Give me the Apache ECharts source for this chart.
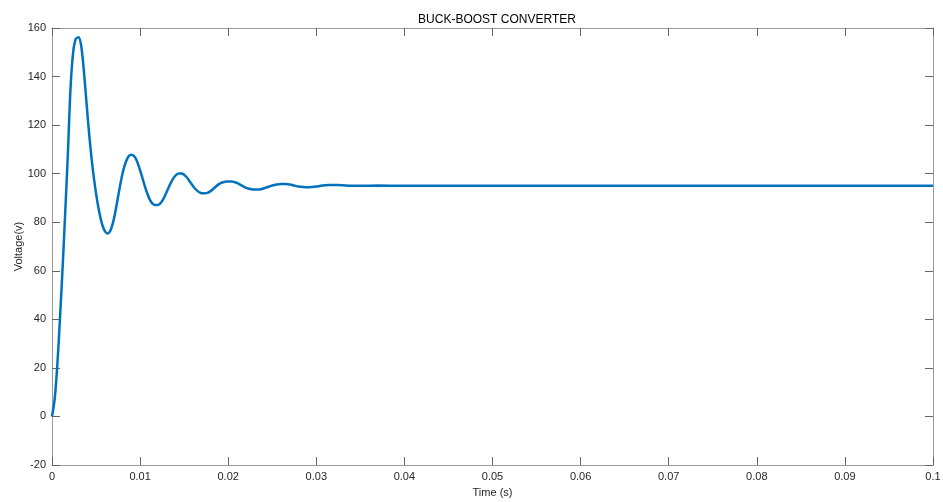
<!DOCTYPE html>
<html>
<head>
<meta charset="utf-8">
<script src="https://cdn.jsdelivr.net/npm/echarts@6/dist/echarts.min.js"></script>
<style>html,body{margin:0;padding:0;background:#fff;}#c{width:943px;height:502px;}</style>
</head>
<body>
<div id="c"></div>
<script>
var titleText = 'BUCK-BOOST CONVERTER';
var xName = 'Time (s)';
var yName = 'Voltage(v)';
var xTicks = [0, 0.01, 0.02, 0.03, 0.04, 0.05, 0.06, 0.07, 0.08, 0.09, 0.1];
var xTickLabels = ['0', '0.01', '0.02', '0.03', '0.04', '0.05', '0.06', '0.07', '0.08', '0.09', '0.1'];
var yTicks = [-20, 0, 20, 40, 60, 80, 100, 120, 140, 160];
var yTickLabels = ['-20', '0', '20', '40', '60', '80', '100', '120', '140', '160'];

var times = [0, 0.0003, 0.0006, 0.0009, 0.0012, 0.0015, 0.0018, 0.0021, 0.0024, 0.0027, 0.0030,
  0.0033, 0.0036, 0.0039, 0.0042, 0.0045, 0.0048, 0.0051, 0.0054, 0.0057, 0.0060,
  0.0063, 0.0066, 0.0069, 0.0072, 0.0075, 0.0078, 0.0081, 0.0084, 0.0087, 0.0090,
  0.0093, 0.0096, 0.0099, 0.0102, 0.0105, 0.0108, 0.0111, 0.0114, 0.0117, 0.0120,
  0.0123, 0.0126, 0.0129, 0.0132, 0.0135, 0.0138, 0.0141, 0.0144, 0.0147, 0.0150,
  0.0153, 0.0156, 0.0159, 0.0162, 0.0165, 0.0168, 0.0171, 0.0174, 0.0177, 0.0180,
  0.0183, 0.0186, 0.0189, 0.0192, 0.0195, 0.0198, 0.0201, 0.0204, 0.0207, 0.0210,
  0.0213, 0.0216, 0.0219, 0.0222, 0.0225, 0.0228, 0.0231, 0.0234, 0.0237, 0.0240,
  0.0245, 0.0250, 0.0255, 0.0260, 0.0265, 0.0270, 0.0275, 0.0280, 0.0285, 0.0290,
  0.0295, 0.0300, 0.0305, 0.0310, 0.0315, 0.0320, 0.0325, 0.0330, 0.0340, 0.0350,
  0.0370, 0.0400, 0.0450, 0.0500, 0.0600, 0.0700, 0.0800, 0.0900, 0.1000];
var voltage = [0, 7, 21, 40, 61, 84, 108, 135, 150, 155.5, 156.2,
  153, 143, 130, 117, 106, 97, 89.5, 83.5, 79, 76.3,
  75.4, 76.3, 79.5, 84.5, 90.5, 96.5, 101.5, 105, 107.2, 107.8,
  107.3, 105.5, 102.5, 99, 95.3, 92, 89.3, 87.7, 87.1, 87.1,
  87.8, 89.3, 91.5, 94, 96.3, 98.2, 99.5, 100.1, 100.1, 99.6,
  98.5, 97, 95.4, 94, 92.9, 92.2, 91.9, 91.9, 92.2, 92.8,
  93.7, 94.7, 95.6, 96.2, 96.6, 96.8, 96.8, 96.8, 96.6, 96.2,
  95.6, 95, 94.4, 94, 93.7, 93.5, 93.5, 93.5, 93.6, 93.9,
  94.5, 95.1, 95.5, 95.7, 95.7, 95.5, 95.1, 94.7, 94.5, 94.4,
  94.5, 94.7, 95, 95.2, 95.3, 95.3, 95.3, 95.2, 95.0, 95.0,
  95.1, 95.0, 95.0, 95.0, 95.0, 95.0, 95.0, 95.0, 95.0];

var seriesData = times.map(function (t, i) { return [t, voltage[i]]; });

function xFmt(v) {
  for (var i = 0; i < xTicks.length; i++) if (Math.abs(v - xTicks[i]) < 1e-9) return xTickLabels[i];
  return '';
}
function yFmt(v) {
  for (var i = 0; i < yTicks.length; i++) if (Math.abs(v - yTicks[i]) < 1e-9) return yTickLabels[i];
  return '';
}

var lineCol = '#9a9a9a';
var tickCol = '#666666';
var txtCol = '#262626';
var ff = '"Liberation Sans", Arial, sans-serif';

var chart = echarts.init(document.getElementById('c'), null, {renderer: 'canvas'});
var baseX = {
  type: 'value', min: 0, max: 0.1, interval: 0.01,
  axisLine: {show: true, onZero: false, lineStyle: {color: lineCol, width: 1}},
  axisTick: {show: true, inside: true, length: 8, lineStyle: {color: tickCol}},
  splitLine: {show: false}
};
var baseY = {
  type: 'value', min: -20, max: 160, interval: 20,
  axisLine: {show: true, onZero: false, lineStyle: {color: lineCol, width: 1}},
  axisTick: {show: true, inside: true, length: 8, lineStyle: {color: tickCol}},
  splitLine: {show: false}
};
chart.setOption({
  animation: false,
  backgroundColor: '#ffffff',
  title: {
    text: titleText, left: 492, top: 9, textAlign: 'center',
    textStyle: {fontFamily: ff, fontSize: 12, fontWeight: 'normal', color: '#000'}
  },
  grid: {left: 52, right: 10, top: 28, bottom: 37, containLabel: false, outerBoundsMode: 'none'},
  xAxis: [
    Object.assign({}, baseX, {
      position: 'bottom', name: xName, nameLocation: 'middle', nameGap: 22,
      nameTextStyle: {fontFamily: ff, fontSize: 11, color: txtCol},
      axisLabel: {show: true, formatter: xFmt, fontFamily: ff, fontSize: 11, color: txtCol, margin: 6, showMaxLabel: true, showMinLabel: true}
    }),
    Object.assign({}, baseX, {position: 'top', axisLabel: {show: false}})
  ],
  yAxis: [
    Object.assign({}, baseY, {
      position: 'left', name: yName, nameLocation: 'middle', nameGap: 28, nameMoveOverlap: false,
      nameTextStyle: {fontFamily: ff, fontSize: 11, color: txtCol},
      axisLabel: {show: true, formatter: yFmt, fontFamily: ff, fontSize: 11, color: txtCol, margin: 6}
    }),
    Object.assign({}, baseY, {position: 'right', axisLabel: {show: false}})
  ],
  series: [{
    type: 'line',
    xAxisIndex: 0, yAxisIndex: 0,
    data: seriesData,
    smooth: 0.3,
    symbol: 'none',
    lineStyle: {color: '#0072BD', width: 2.5}
  }]
});
</script>
</body>
</html>
